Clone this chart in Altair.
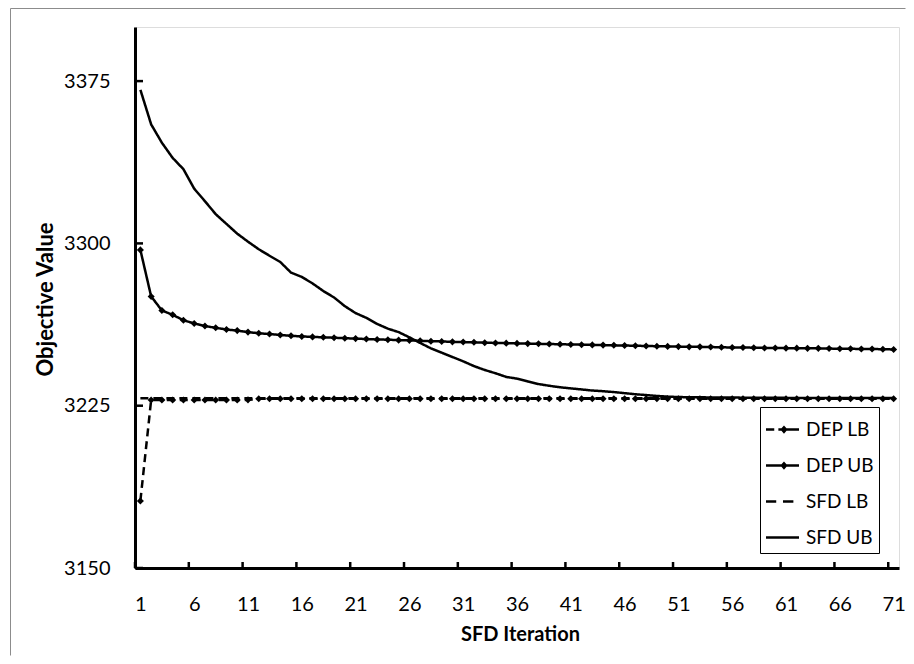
import altair as alt
import pandas as pd

iterations = list(range(1, 72))
series_names = ["DEP LB", "DEP UB", "SFD LB", "SFD UB"]

dep_lb = [3181.0, 3227.6, 3227.6, 3227.6, 3227.6, 3227.6, 3227.6, 3227.6, 3227.6, 3227.6,
          3227.7, 3228.2, 3228.2, 3228.2, 3228.2, 3228.2, 3228.2, 3228.2, 3228.2, 3228.2,
          3228.2, 3228.2, 3228.2, 3228.2, 3228.2, 3228.2, 3228.2, 3228.2, 3228.2, 3228.2,
          3228.2, 3228.2, 3228.2, 3228.2, 3228.2, 3228.2, 3228.2, 3228.2, 3228.2, 3228.2,
          3228.2, 3228.2, 3228.2, 3228.2, 3228.2, 3228.2, 3228.2, 3228.2, 3228.2, 3228.2,
          3228.2, 3228.2, 3228.2, 3228.2, 3228.2, 3228.2, 3228.2, 3228.2, 3228.2, 3228.2,
          3228.2, 3228.2, 3228.2, 3228.2, 3228.2, 3228.2, 3228.2, 3228.2, 3228.2, 3228.2,
          3228.2]

dep_ub = [3297.0, 3275.5, 3269.0, 3267.0, 3264.5, 3263.0, 3261.8, 3261.0, 3260.2, 3259.7,
          3259.0, 3258.5, 3258.1, 3257.7, 3257.3, 3257.0, 3256.8, 3256.6, 3256.4, 3256.2,
          3256.0, 3255.8, 3255.6, 3255.5, 3255.3, 3255.2, 3255.0, 3254.8, 3254.7, 3254.5,
          3254.4, 3254.3, 3254.1, 3254.0, 3253.9, 3253.8, 3253.7, 3253.6, 3253.5, 3253.4,
          3253.3, 3253.2, 3253.1, 3253.0, 3252.9, 3252.8, 3252.7, 3252.6, 3252.5, 3252.4,
          3252.3, 3252.2, 3252.2, 3252.1, 3252.0, 3251.9, 3251.9, 3251.8, 3251.7, 3251.7,
          3251.6, 3251.6, 3251.5, 3251.5, 3251.4, 3251.3, 3251.3, 3251.2, 3251.2, 3251.1,
          3251.0]

sfd_lb = [3228.5, 3228.5, 3228.5, 3228.5, 3228.5, 3228.5, 3228.5, 3228.5, 3228.5, 3228.5,
          3228.5, 3228.5, 3228.5, 3228.5, 3228.5, 3228.5, 3228.5, 3228.5, 3228.5, 3228.5,
          3228.5, 3228.5, 3228.5, 3228.5, 3228.5, 3228.5, 3228.5, 3228.5, 3228.5, 3228.5,
          3228.5, 3228.5, 3228.5, 3228.5, 3228.5, 3228.5, 3228.5, 3228.5, 3228.5, 3228.5,
          3228.5, 3228.5, 3228.5, 3228.5, 3228.5, 3228.5, 3228.5, 3228.5, 3228.5, 3228.5,
          3228.5, 3228.5, 3228.5, 3228.5, 3228.5, 3228.5, 3228.5, 3228.5, 3228.5, 3228.5,
          3228.5, 3228.5, 3228.5, 3228.5, 3228.5, 3228.5, 3228.5, 3228.5, 3228.5, 3228.5,
          3228.5]

sfd_ub = [3371.0, 3355.0, 3346.5, 3339.5, 3334.3, 3325.3, 3319.5, 3313.5, 3309.0, 3304.5,
          3300.8, 3297.3, 3294.3, 3291.4, 3286.5, 3284.5, 3281.5, 3278.0, 3275.0, 3271.0,
          3267.8, 3265.6, 3262.8, 3260.6, 3259.0, 3256.6, 3254.0, 3251.5, 3249.5, 3247.5,
          3245.5, 3243.3, 3241.5, 3240.0, 3238.3, 3237.5, 3236.2, 3235.0, 3234.2, 3233.5,
          3233.0, 3232.5, 3232.0, 3231.7, 3231.3, 3230.8, 3230.3, 3229.9, 3229.5, 3229.2,
          3229.0, 3228.9, 3228.9, 3228.8, 3228.8, 3228.8, 3228.7, 3228.7, 3228.7, 3228.7,
          3228.6, 3228.6, 3228.6, 3228.6, 3228.6, 3228.6, 3228.6, 3228.6, 3228.6, 3228.6,
          3228.6]

x_tick_labels = [1, 6, 11, 16, 21, 26, 31, 36, 41, 46, 51, 56, 61, 66, 71]
x_tick_marks = [0.5, 5.5, 10.5, 15.5, 20.5, 25.5, 30.5, 35.5, 40.5, 45.5, 50.5, 55.5, 60.5, 65.5, 70.5]
y_ticks = [3150, 3225, 3300, 3375]

# legend glyphs as filled outlines (line segments drawn as thin bars + diamond)
_bar = "M{a},-0.076L{b},-0.076L{b},0.076L{a},0.076Z"
_diamond = "M0.09,-0.25L0.31,0L0.09,0.25L-0.13,0Z"
legend_paths = [
    _bar.format(a=-1, b=-0.5) + _bar.format(a=-0.25, b=1) + _diamond,
    _bar.format(a=-1, b=1) + _diamond,
    _bar.format(a=-1, b=-0.38) + _bar.format(a=0.03, b=0.66),
    _bar.format(a=-1, b=1),
]

rows = []
for name, vals in zip(series_names, [dep_lb, dep_ub, sfd_lb, sfd_ub]):
    for it, v in zip(iterations, vals):
        rows.append({"iter": it, "value": v, "series": name, "bound": name.split()[1]})
df = pd.DataFrame(rows)

W, H = 764, 541
FONT = "Lato"

xscale = alt.Scale(domain=[0.5, 71.5], nice=False, zero=False)
yscale = alt.Scale(domain=[3150, 3400], nice=False, zero=False)

x_enc = alt.X("iter:Q", scale=xscale, axis=alt.Axis(
    values=x_tick_labels, ticks=False, grid=False, domainColor="black", domainWidth=3,
    labelFont=FONT, labelFontSize=20, labelColor="black", labelPadding=26,
    labelFlush=False, labelOverlap=False, format="d",
    title="SFD Iteration", titleFont=FONT, titleFontSize=20, titleFontWeight="bold",
    titleColor="black", titleX=385, titleY=66, titleBaseline="middle", titleAlign="center"))

y_enc = alt.Y("value:Q", scale=yscale, axis=alt.Axis(
    values=y_ticks, ticks=False, grid=False, domainColor="black", domainWidth=3,
    labelFont=FONT, labelFontSize=20, labelColor="black", labelPadding=25,
    labelFlush=False, labelOverlap=False, format="d",
    title="Objective Value", titleFont=FONT, titleFontSize=22, titleFontWeight="bold",
    titleColor="black", titleX=-90, titleY=272, titleAngle=270,
    titleBaseline="middle", titleAlign="center"))

one = pd.DataFrame({"a": [0]})
frame_left = alt.Chart(one).mark_rule(color="#8c8c8c", strokeWidth=1).encode(
    x=alt.value(-124.5), y=alt.value(-18.5), y2=alt.value(628.5))
frame_top = alt.Chart(one).mark_rule(color="#8c8c8c", strokeWidth=1).encode(
    x=alt.value(-124.5), x2=alt.value(770.5), y=alt.value(-18.5))

lines = alt.Chart(df).mark_line(strokeWidth=2.5, color="black").encode(
    x=x_enc, y=y_enc,
    strokeDash=alt.StrokeDash("bound:N", scale=alt.Scale(
        domain=["LB", "UB"], range=[[8, 5], [1, 0]]), legend=None),
    detail="series:N", order="iter:Q")

points = alt.Chart(df).transform_filter(
    alt.FieldOneOfPredicate(field="series", oneOf=["DEP LB", "DEP UB"])
).mark_point(shape="diamond", filled=True, color="black", size=50, opacity=1).encode(
    x=x_enc, y=y_enc)

yticks = alt.Chart(pd.DataFrame({"value": y_ticks})).mark_rule(
    color="black", strokeWidth=2.5).encode(y=y_enc, x=alt.value(0), x2=alt.value(8))
xticks = alt.Chart(pd.DataFrame({"iter": x_tick_marks})).mark_rule(
    color="black", strokeWidth=2.5).encode(x=x_enc, y=alt.value(H), y2=alt.value(H - 6))

# invisible carrier layer (size 0) whose only visible product is the legend
legend_layer = alt.Chart(df).mark_point(filled=True, color="black", size=0).encode(
    x=x_enc, y=y_enc,
    shape=alt.Shape("series:N", scale=alt.Scale(domain=series_names, range=legend_paths),
                    legend=alt.Legend(
                        title=None, orient="none", legendX=625, legendY=380,
                        symbolSize=1089, symbolFillColor="black", symbolOpacity=1,
                        labelFont=FONT, labelFontSize=19, labelColor="black", labelOffset=6,
                        padding=5, rowPadding=8, strokeColor="black", fillColor="white",
                        labelLimit=300)))

chart = alt.layer(frame_left, frame_top, lines, points, yticks, xticks, legend_layer).properties(
    width=W, height=H,
    autosize=alt.AutoSizeParams(type="none"),
    padding={"left": 127, "top": 19, "right": 7, "bottom": 88},
).configure_view(stroke="transparent").configure(background="white")

chart.save("out.html", embed_options={"renderer": "svg", "actions": False})
